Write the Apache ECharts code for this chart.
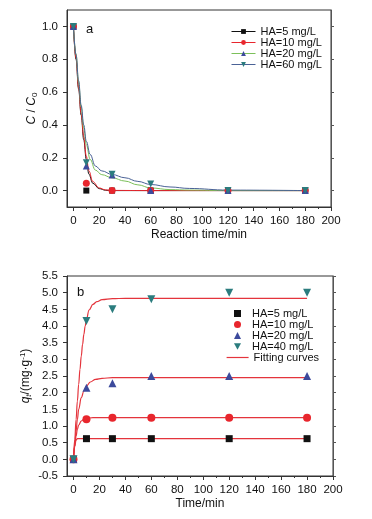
<!DOCTYPE html>
<html>
<head>
<meta charset="utf-8">
<script src="https://cdn.jsdelivr.net/npm/echarts@6/dist/echarts.min.js"></script>
<style>
html, body { margin: 0; padding: 0; background: #fff; }
#main { width: 372px; height: 519px; }
</style>
</head>
<body>
<div id="main"></div>
<script>
// ---- panel a: C/C0 vs reaction time ----
var timesA = [0, 10, 30, 60, 120, 180];
var ptsA5 = [1.0, 0.0, 0.0, 0.0, 0.0, 0.0];
var ptsA10 = [1.0, 0.045, 0.0, 0.0, 0.0, 0.0];
var ptsA20 = [1.0, 0.15, 0.095, 0.0, 0.0, 0.0];
var ptsA60 = [1.0, 0.17, 0.1, 0.04, 0.0, 0.0];

// fitted curves
var curveTA = [0, 2, 4, 6, 8, 10, 12, 15, 20, 25, 30, 60, 120, 180];
var curveA5 = [1.0, 0.8, 0.62, 0.46, 0.31, 0.19, 0.1, 0.045, 0.012, 0.002, 0.0, 0.0, 0.0, 0.0];
var curveA10 = [1.0, 0.81, 0.63, 0.47, 0.33, 0.21, 0.12, 0.055, 0.016, 0.004, 0.001, 0.0, 0.0, 0.0];
var curveTA2 = [0, 2, 4, 6, 8, 10, 13, 17, 22, 30, 40, 50, 60, 75, 90, 120, 180];
var curveA20 = [1.0, 0.83, 0.66, 0.51, 0.38, 0.28, 0.19, 0.125, 0.097, 0.078, 0.058, 0.035, 0.016, 0.006, 0.003, 0.0, 0.0];
var curveA60 = [1.0, 0.83, 0.67, 0.52, 0.4, 0.3, 0.22, 0.15, 0.12, 0.098, 0.078, 0.056, 0.037, 0.022, 0.013, 0.003, 0.0];

// ---- panel b: qt vs time ----
var timesB = [0, 10, 30, 60, 120, 180];
var ptsB5 = [0, 0.62, 0.62, 0.62, 0.62, 0.62];
var ptsB10 = [0, 1.2, 1.25, 1.25, 1.25, 1.25];
var ptsB20 = [0, 2.15, 2.28, 2.5, 2.5, 2.5];
var ptsB40 = [0, 4.15, 4.5, 4.8, 5.0, 5.0];

var fitT5 = [0, 1, 2, 3, 5, 180];
var fitB5 = [0, 0.4, 0.58, 0.62, 0.62, 0.62];
var fitT10 = [0, 1, 2, 3, 4, 6, 8, 10, 15, 180];
var fitB10 = [0, 0.4, 0.7, 0.9, 1.03, 1.15, 1.2, 1.23, 1.25, 1.25];
var fitT20 = [0, 1, 2, 3, 4, 6, 8, 10, 13, 17, 22, 30, 180];
var fitB20 = [0, 0.45, 0.85, 1.2, 1.5, 1.85, 2.05, 2.2, 2.32, 2.4, 2.43, 2.45, 2.45];
var fitT40 = [0, 1, 2, 3, 4, 5, 6, 7, 8, 9, 10, 12, 15, 18, 22, 30, 40, 180];
var fitB40 = [0, 0.6, 1.2, 1.75, 2.25, 2.7, 3.1, 3.45, 3.75, 4.0, 4.2, 4.48, 4.65, 4.73, 4.79, 4.82, 4.83, 4.83];

var xTicks = [0, 20, 40, 60, 80, 100, 120, 140, 160, 180, 200];
var xMinor = [10, 30, 50, 70, 90, 110, 130, 150, 170, 190];
var yTicksA = [0, 0.2, 0.4, 0.6, 0.8, 1.0];

var namesA = ['HA=5 mg/L', 'HA=10 mg/L', 'HA=20 mg/L', 'HA=60 mg/L'];
var namesB = ['HA=5 mg/L ', 'HA=10 mg/L ', 'HA=20 mg/L ', 'HA=40 mg/L '];

var FONT = 'Liberation Sans, Arial, sans-serif';
var cBlack = '#111111', cRed = '#e8262d', cBlue = '#3c4a9c', cTeal = '#2b7c7e';
var lBlack = '#111111', lRed = '#e8262d', lGreen = '#7cc05a', lBlue = '#4a6296';
var fitRed = '#e4343c';

function pairs(xs, ys) {
    return xs.map(function (x, i) { return [x, ys[i]]; });
}

function mainX(gi, name, gap) {
    return {
        gridIndex: gi, type: 'value', min: -5, max: 200,
        name: name, nameLocation: 'middle', nameGap: gap,
        nameTextStyle: { fontFamily: FONT, fontSize: 12, color: '#111' },
        axisLine: { onZero: false, lineStyle: { color: '#333', width: 1 } },
        axisTick: { show: true, length: 4, customValues: xTicks, lineStyle: { color: '#333' } },
        axisLabel: { customValues: xTicks, margin: 8, fontFamily: FONT, fontSize: 11.5, color: '#111' },
        splitLine: { show: false }
    };
}
function minorX(gi) {
    return {
        gridIndex: gi, type: 'value', min: -5, max: 200, position: 'bottom',
        axisLine: { show: false, onZero: false },
        axisTick: { show: true, length: 2, customValues: xMinor, lineStyle: { color: '#333' } },
        axisLabel: { show: false }, splitLine: { show: false }
    };
}

var option = {
    backgroundColor: '#fff',
    animation: false,
    grid: [
        { left: 67, right: 41, top: 10, height: 197, show: true, borderColor: '#333', borderWidth: 1 },
        { left: 67, right: 39, top: 276, height: 200, show: true, borderColor: '#333', borderWidth: 1 }
    ],
    xAxis: [
        mainX(0, 'Reaction time/min', 22),
        mainX(1, 'Time/min', 22),
        minorX(0),
        minorX(1)
    ],
    yAxis: [
        {
            gridIndex: 0, type: 'value', min: -0.1, max: 1.1,
            name: '{i|C} / {i|C}{s|0}', nameLocation: 'middle', nameGap: 28, nameRotate: 90,
            nameMoveOverlap: false,
            nameTextStyle: {
                fontFamily: FONT, fontSize: 12, color: '#111',
                rich: {
                    i: { fontStyle: 'italic', fontFamily: FONT, fontSize: 12, color: '#111' },
                    s: { fontFamily: FONT, fontSize: 8, color: '#111', verticalAlign: 'bottom', padding: [6, 0, 0, 0] }
                }
            },
            axisLine: { onZero: false, lineStyle: { color: '#333' } },
            axisTick: { length: 4, customValues: yTicksA, lineStyle: { color: '#333' } },
            axisLabel: {
                customValues: yTicksA, margin: 9, fontFamily: FONT, fontSize: 11.5, color: '#111',
                formatter: function (v) { return v.toFixed(1); }
            },
            splitLine: { show: false }
        },
        {
            gridIndex: 1, type: 'value', min: -0.5, max: 5.5, interval: 0.5,
            name: '{i|q}{is|t}/(mg·g{sup|-1})', nameLocation: 'middle', nameGap: 34, nameRotate: 90,
            nameMoveOverlap: false,
            nameTextStyle: {
                fontFamily: FONT, fontSize: 12, color: '#111',
                rich: {
                    i: { fontStyle: 'italic', fontFamily: FONT, fontSize: 12, color: '#111' },
                    is: { fontStyle: 'italic', fontFamily: FONT, fontSize: 8, color: '#111', padding: [6, 0, 0, 0] },
                    sup: { fontFamily: FONT, fontSize: 8, color: '#111', padding: [0, 0, 6, 0] }
                }
            },
            axisLine: { onZero: false, lineStyle: { color: '#333' } },
            axisTick: { length: 4, lineStyle: { color: '#333' } },
            axisLabel: {
                margin: 9, fontFamily: FONT, fontSize: 11.5, color: '#111',
                formatter: function (v) { return v.toFixed(1); }
            },
            splitLine: { show: false }
        },
        {
            gridIndex: 0, type: 'value', min: -0.1, max: 1.1, position: 'right',
            axisLine: { show: true, onZero: false, lineStyle: { color: '#555' } },
            axisTick: { show: true, length: 3, customValues: yTicksA, lineStyle: { color: '#555' } },
            axisLabel: { show: false }, splitLine: { show: false }
        },
        {
            gridIndex: 1, type: 'value', min: -0.5, max: 5.5, interval: 0.5, position: 'right',
            axisLine: { show: true, onZero: false, lineStyle: { color: '#555' } },
            axisTick: { show: true, length: 3, lineStyle: { color: '#555' } },
            axisLabel: { show: false }, splitLine: { show: false }
        }
    ],
    legend: [
        {
            data: namesA, left: 226, top: 21, orient: 'vertical',
            itemWidth: 24, itemHeight: 6, itemGap: 0,
            lineStyle: { width: 1 },
            textStyle: { fontFamily: FONT, fontSize: 11, color: '#111', lineHeight: 11, height: 11 }
        },
        {
            data: namesB, left: 229, top: 303, orient: 'vertical',
            itemWidth: 7, itemHeight: 7, itemGap: 0,
            textStyle: { fontFamily: FONT, fontSize: 11, color: '#111', lineHeight: 11, height: 11, padding: [0, 0, 0, 6] }
        },
        {
            data: [{ name: 'Fitting curves', itemStyle: { opacity: 0 } }],
            left: 221, top: 347, orient: 'vertical',
            itemWidth: 22, itemHeight: 7, itemGap: 0,
            lineStyle: { width: 1.2 },
            textStyle: { fontFamily: FONT, fontSize: 11, color: '#111', lineHeight: 11, height: 11 }
        }
    ],
    graphic: [
        { type: 'text', left: 86, top: 23, style: { text: 'a', fontFamily: FONT, fontSize: 13, fill: '#111' } },
        { type: 'text', left: 77, top: 286, style: { text: 'b', fontFamily: FONT, fontSize: 13, fill: '#111' } }
    ],
    series: []
};

// panel a: fitted curves (named, for legend) + measured points
var aCurves = [curveA5, curveA10, curveA20, curveA60];
var aCurveT = [curveTA, curveTA, curveTA2, curveTA2];
var aPts = [ptsA5, ptsA10, ptsA20, ptsA60];
var aLine = [lBlack, lRed, lGreen, lBlue];
var aMark = [cBlack, cRed, cBlue, cTeal];
var aSym = ['rect', 'circle', 'triangle', 'path://M0,0 L10,0 L5,9 Z'];
var aSize = [6, 7, 7, 7];

aCurves.forEach(function (c, i) {
    option.series.push({
        name: namesA[i], type: 'line', xAxisIndex: 0, yAxisIndex: 0,
        data: pairs(aCurveT[i], c), smooth: 0.4, smoothMonotone: 'x',
        showSymbol: false, symbol: aSym[i], symbolSize: aSize[i],
        itemStyle: { color: aMark[i] },
        lineStyle: { color: aLine[i], width: 1 },
        z: 2
    });
});
aPts.forEach(function (p, i) {
    option.series.push({
        name: namesA[i] + ' pts', type: 'scatter', xAxisIndex: 0, yAxisIndex: 0,
        data: pairs(timesA, p), symbol: aSym[i], symbolSize: aSize[i],
        itemStyle: { color: aMark[i], opacity: 1 }, z: 3
    });
});

// panel b: measured points + red fitting curves
var bPts = [ptsB5, ptsB10, ptsB20, ptsB40];
bPts.forEach(function (p, i) {
    option.series.push({
        name: namesB[i], type: 'scatter', xAxisIndex: 1, yAxisIndex: 1,
        data: pairs(timesB, p), symbol: aSym[i], symbolSize: aSize[i] + 1,
        itemStyle: { color: aMark[i], opacity: 1 }, z: 3
    });
});
var fitsT = [fitT5, fitT10, fitT20, fitT40];
var fitsB = [fitB5, fitB10, fitB20, fitB40];
fitsB.forEach(function (f, i) {
    option.series.push({
        name: 'Fitting curves', type: 'line', xAxisIndex: 1, yAxisIndex: 1,
        data: pairs(fitsT[i], f), smooth: 0.4, smoothMonotone: 'x',
        showSymbol: false, symbol: 'none',
        itemStyle: { color: fitRed },
        lineStyle: { color: fitRed, width: 1.2 },
        z: 2
    });
});

var myChart = echarts.init(document.getElementById('main'), null, { renderer: 'canvas' });
myChart.setOption(option);
</script>
</body>
</html>
